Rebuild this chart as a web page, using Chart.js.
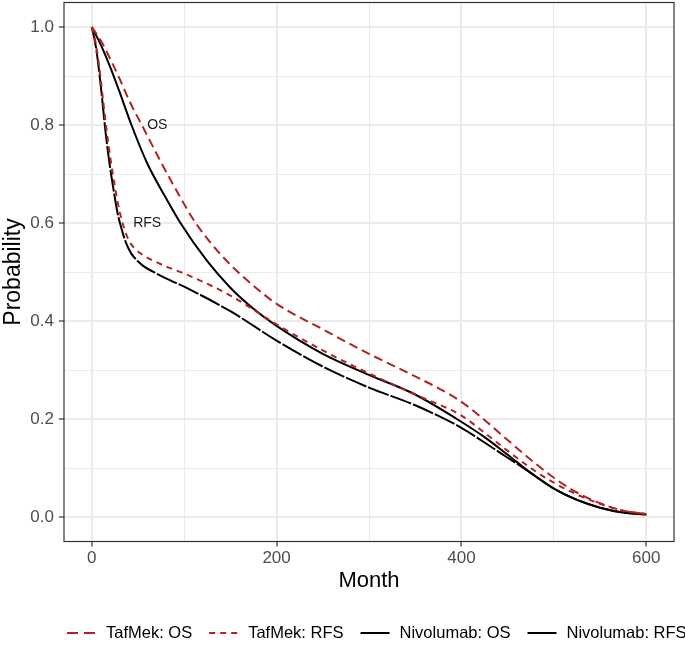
<!DOCTYPE html>
<html lang="en">
<head>
    <meta charset="UTF-8">
    <title>Survival curves</title>
    <script src="https://cdn.jsdelivr.net/npm/chart.js"></script>
    <style>
        html, body {
            margin: 0;
            padding: 0;
            background: #ffffff;
        }
        #wrap {
            width: 685px;
            height: 653px;
        }
    </style>
</head>
<body>
    <div id="wrap"><canvas id="survChart"></canvas></div>
    <script>
        // Values
        const tafOsMonth = [0, 10, 20, 30, 40, 55, 75, 90, 110, 125, 150, 175, 200, 250, 300, 350, 380, 400, 425, 450, 475, 500, 525, 550, 575, 600];
        const tafOsProb = [1.0, 0.972, 0.935, 0.895, 0.852, 0.797, 0.724, 0.672, 0.607, 0.568, 0.515, 0.472, 0.435, 0.383, 0.333, 0.287, 0.258, 0.235, 0.198, 0.157, 0.117, 0.08, 0.05, 0.028, 0.013, 0.006];

        const tafRfsMonth = [0, 4, 8, 12, 16, 20, 25, 30, 35, 40, 47, 55, 70, 82, 100, 150, 200, 250, 300, 350, 400, 425, 450, 475, 500, 525, 550, 575, 600];
        const tafRfsProb = [1.0, 0.97, 0.92, 0.855, 0.79, 0.735, 0.675, 0.625, 0.59, 0.565, 0.547, 0.535, 0.52, 0.51, 0.497, 0.452, 0.393, 0.34, 0.293, 0.25, 0.207, 0.172, 0.135, 0.10, 0.07, 0.046, 0.027, 0.013, 0.006];

        const nivOsMonth = [0, 10, 20, 30, 43, 60, 80, 96, 125, 150, 175, 200, 250, 300, 350, 395, 425, 450, 475, 500, 525, 550, 575, 600];
        const nivOsProb = [1.0, 0.963, 0.918, 0.868, 0.80, 0.722, 0.652, 0.60, 0.522, 0.468, 0.425, 0.39, 0.333, 0.29, 0.25, 0.20, 0.163, 0.127, 0.09, 0.058, 0.035, 0.019, 0.009, 0.005];

        const nivRfsMonth = [0, 4, 8, 12, 15, 19, 23, 28, 32, 37, 43, 50, 56, 70, 85, 100, 150, 200, 250, 300, 350, 400, 425, 450, 475, 500, 525, 550, 575, 600];
        const nivRfsProb = [1.0, 0.965, 0.91, 0.84, 0.785, 0.725, 0.675, 0.62, 0.59, 0.56, 0.537, 0.522, 0.512, 0.497, 0.483, 0.47, 0.42, 0.36, 0.307, 0.264, 0.228, 0.182, 0.152, 0.121, 0.09, 0.058, 0.035, 0.019, 0.009, 0.005];

        const seriesNames = ['TafMek: OS', 'TafMek: RFS', 'Nivolumab: OS', 'Nivolumab: RFS'];
        const xTicks = [0, 100, 200, 300, 400, 500, 600];
        const yTicks = [0, 0.1, 0.2, 0.3, 0.4, 0.5, 0.6, 0.7, 0.8, 0.9, 1.0];
        const curveLabels = [{text: 'OS', x: 71, y: 0.80}, {text: 'RFS', x: 60, y: 0.60}];

        const FONT = '"Liberation Sans", Arial, sans-serif';
        const red = '#b22222';

        function toPoints(xs, ys) {
            return xs.map((x, i) => ({x: x, y: ys[i]}));
        }

        // dash used in the key at the bottom (ggplot draws the short niv RFS key solid)
        const legendDash = [[11, 6], [6, 5], [], []];

        const isMajorX = v => v % 200 === 0;
        const isMajorY = v => Math.round(v * 10) % 2 === 0;

        // panel border, curve labels and the bottom key
        const extras = {
            id: 'extras',
            afterDatasetsDraw(chart) {
                const ctx = chart.ctx;
                const a = chart.chartArea;
                const xs = chart.scales.x, ys = chart.scales.y;
                ctx.save();
                ctx.fillStyle = '#1a1a1a';
                ctx.font = '14px ' + FONT;
                ctx.textAlign = 'center';
                ctx.textBaseline = 'middle';
                curveLabels.forEach(l => {
                    ctx.fillText(l.text, xs.getPixelForValue(l.x), ys.getPixelForValue(l.y));
                });
                ctx.strokeStyle = '#333333';
                ctx.lineWidth = 1.2;
                ctx.strokeRect(a.left, a.top, a.right - a.left, a.bottom - a.top);

                // key
                ctx.font = '16.5px ' + FONT;
                ctx.textAlign = 'left';
                let x = 67;
                const y = 633;
                chart.data.datasets.forEach((ds, i) => {
                    ctx.strokeStyle = ds.borderColor;
                    ctx.lineWidth = 2;
                    ctx.setLineDash(legendDash[i]);
                    ctx.beginPath();
                    ctx.moveTo(x, y);
                    ctx.lineTo(x + 29, y);
                    ctx.stroke();
                    ctx.setLineDash([]);
                    ctx.fillStyle = '#000000';
                    ctx.fillText(ds.label, x + 39, y);
                    x += 39 + ctx.measureText(ds.label).width + 17;
                });
                ctx.restore();
            }
        };

        new Chart(document.getElementById('survChart'), {
            type: 'line',
            data: {
                datasets: [
                    {label: seriesNames[0], data: toPoints(tafOsMonth, tafOsProb), borderColor: red, borderDash: [9, 5]},
                    {label: seriesNames[1], data: toPoints(tafRfsMonth, tafRfsProb), borderColor: red, borderDash: [6, 5]},
                    {label: seriesNames[2], data: toPoints(nivOsMonth, nivOsProb), borderColor: '#000000', borderDash: []},
                    {label: seriesNames[3], data: toPoints(nivRfsMonth, nivRfsProb), borderColor: '#000000', borderDash: [22, 2]}
                ]
            },
            options: {
                responsive: true,
                maintainAspectRatio: false,
                animation: false,
                layout: {padding: {top: 2.5, left: 0, right: 11, bottom: 40}},
                elements: {
                    point: {radius: 0},
                    line: {borderWidth: 2, cubicInterpolationMode: 'monotone', fill: false}
                },
                plugins: {
                    legend: {display: false},
                    tooltip: {enabled: false}
                },
                scales: {
                    x: {
                        type: 'linear',
                        min: -30,
                        max: 630,
                        afterBuildTicks: s => { s.ticks = xTicks.map(v => ({value: v})); },
                        afterFit: s => { s.height = 71.5; s.paddingLeft = 0; s.paddingRight = 0; },
                        ticks: {
                            autoSkip: false,
                            maxRotation: 0,
                            padding: 2,
                            color: '#4d4d4d',
                            font: {family: FONT, size: 17},
                            callback: v => isMajorX(v) ? String(v) : ''
                        },
                        grid: {
                            color: '#ebebeb',
                            lineWidth: c => isMajorX(c.tick.value) ? 2 : 1,
                            tickLength: 5,
                            tickWidth: 1.2,
                            tickColor: c => isMajorX(c.tick.value) ? '#333333' : 'rgba(0,0,0,0)'
                        },
                        border: {display: false},
                        title: {
                            display: true,
                            text: 'Month',
                            color: '#000000',
                            font: {family: FONT, size: 22},
                            padding: {top: 0, bottom: 19}
                        }
                    },
                    y: {
                        type: 'linear',
                        min: -0.05,
                        max: 1.05,
                        afterBuildTicks: s => { s.ticks = yTicks.map(v => ({value: v})); },
                        afterFit: s => { s.width = 64; s.paddingTop = 0; s.paddingBottom = 0; },
                        ticks: {
                            autoSkip: false,
                            padding: 5,
                            color: '#4d4d4d',
                            font: {family: FONT, size: 17},
                            callback: v => isMajorY(v) ? v.toFixed(1) : ''
                        },
                        grid: {
                            color: '#ebebeb',
                            lineWidth: c => isMajorY(c.tick.value) ? 2 : 1,
                            tickLength: 5,
                            tickWidth: 1.2,
                            tickColor: c => isMajorY(c.tick.value) ? '#333333' : 'rgba(0,0,0,0)'
                        },
                        border: {display: false},
                        title: {
                            display: true,
                            text: 'Probability',
                            color: '#000000',
                            font: {family: FONT, size: 23},
                            padding: {top: 0, bottom: 0}
                        }
                    }
                }
            },
            plugins: [extras]
        });
    </script>
</body>
</html>
